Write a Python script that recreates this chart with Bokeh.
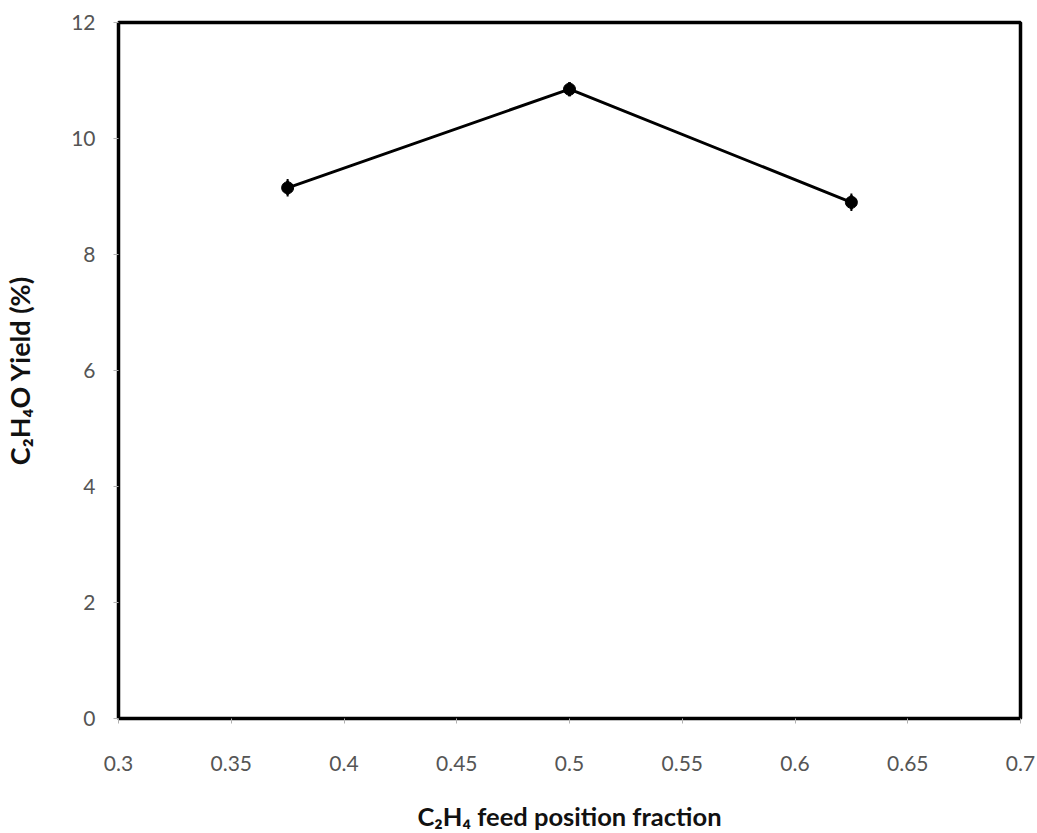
from bokeh.plotting import figure
from bokeh.models import ColumnDataSource, Whisker, Range1d, FixedTicker
from bokeh.embed import file_html
from bokeh.resources import INLINE

# Ethylene oxide yield versus ethylene feed position
feed_fraction = [0.375, 0.5, 0.625]
yield_pct = [9.15, 10.85, 8.9]
yield_err = [0.15, 0.12, 0.15]

x_ticks = [0.3, 0.35, 0.4, 0.45, 0.5, 0.55, 0.6, 0.65, 0.7]
x_tick_labels = ["0.3", "0.35", "0.4", "0.45", "0.5", "0.55", "0.6", "0.65", "0.7"]
y_ticks = [0, 2, 4, 6, 8, 10, 12]

x_title = "C\u2082H\u2084 feed position fraction"
y_title = "C\u2082H\u2084O Yield (%)"

src = ColumnDataSource(dict(
    x=feed_fraction,
    y=yield_pct,
    lo=[v - e for v, e in zip(yield_pct, yield_err)],
    hi=[v + e for v, e in zip(yield_pct, yield_err)],
))

p = figure(width=1037, height=833, output_backend="svg", toolbar_location=None,
           x_range=Range1d(0.3, 0.7), y_range=Range1d(0, 12),
           min_border_left=117, min_border_right=17,
           min_border_top=22, min_border_bottom=115)

p.background_fill_color = "white"
p.border_fill_color = "white"
p.outline_line_color = "black"
p.outline_line_width = 3.5
p.grid.visible = False

p.xaxis.ticker = FixedTicker(ticks=x_ticks)
p.xaxis.major_label_overrides = {t: s for t, s in zip(x_ticks, x_tick_labels)}
p.yaxis.ticker = FixedTicker(ticks=y_ticks)

for ax in (p.xaxis, p.yaxis):
    ax.axis_line_color = None
    ax.major_tick_line_color = "#b0b0b0"
    ax.major_tick_out = 5
    ax.major_tick_in = 0
    ax.minor_tick_line_color = None
    ax.major_label_text_font = "Lato"
    ax.major_label_text_font_size = "21px"
    ax.major_label_text_color = "#555555"
    ax.axis_label_text_font = "Lato"
    ax.axis_label_text_font_style = "bold"
    ax.axis_label_text_color = "#111111"

p.xaxis.major_label_standoff = 32
p.yaxis.major_label_standoff = 18
p.xaxis.axis_label = x_title
p.yaxis.axis_label = y_title
p.xaxis.axis_label_text_font_size = "25.5px"
p.yaxis.axis_label_text_font_size = "27px"
p.xaxis.axis_label_standoff = 27
p.yaxis.axis_label_standoff = 32

p.line("x", "y", source=src, line_color="black", line_width=3)
p.add_layout(Whisker(source=src, base="x", lower="lo", upper="hi",
                     line_color="black", line_width=2,
                     upper_head=None, lower_head=None))
p.scatter("x", "y", source=src, marker="circle", size=12,
          fill_color="black", line_color="black")
p.scatter("x", "y", source=src, marker="dash", size=14, angle=1.5708,
          line_color="black", line_width=3)

open("out.html", "w").write(file_html(p, INLINE))
